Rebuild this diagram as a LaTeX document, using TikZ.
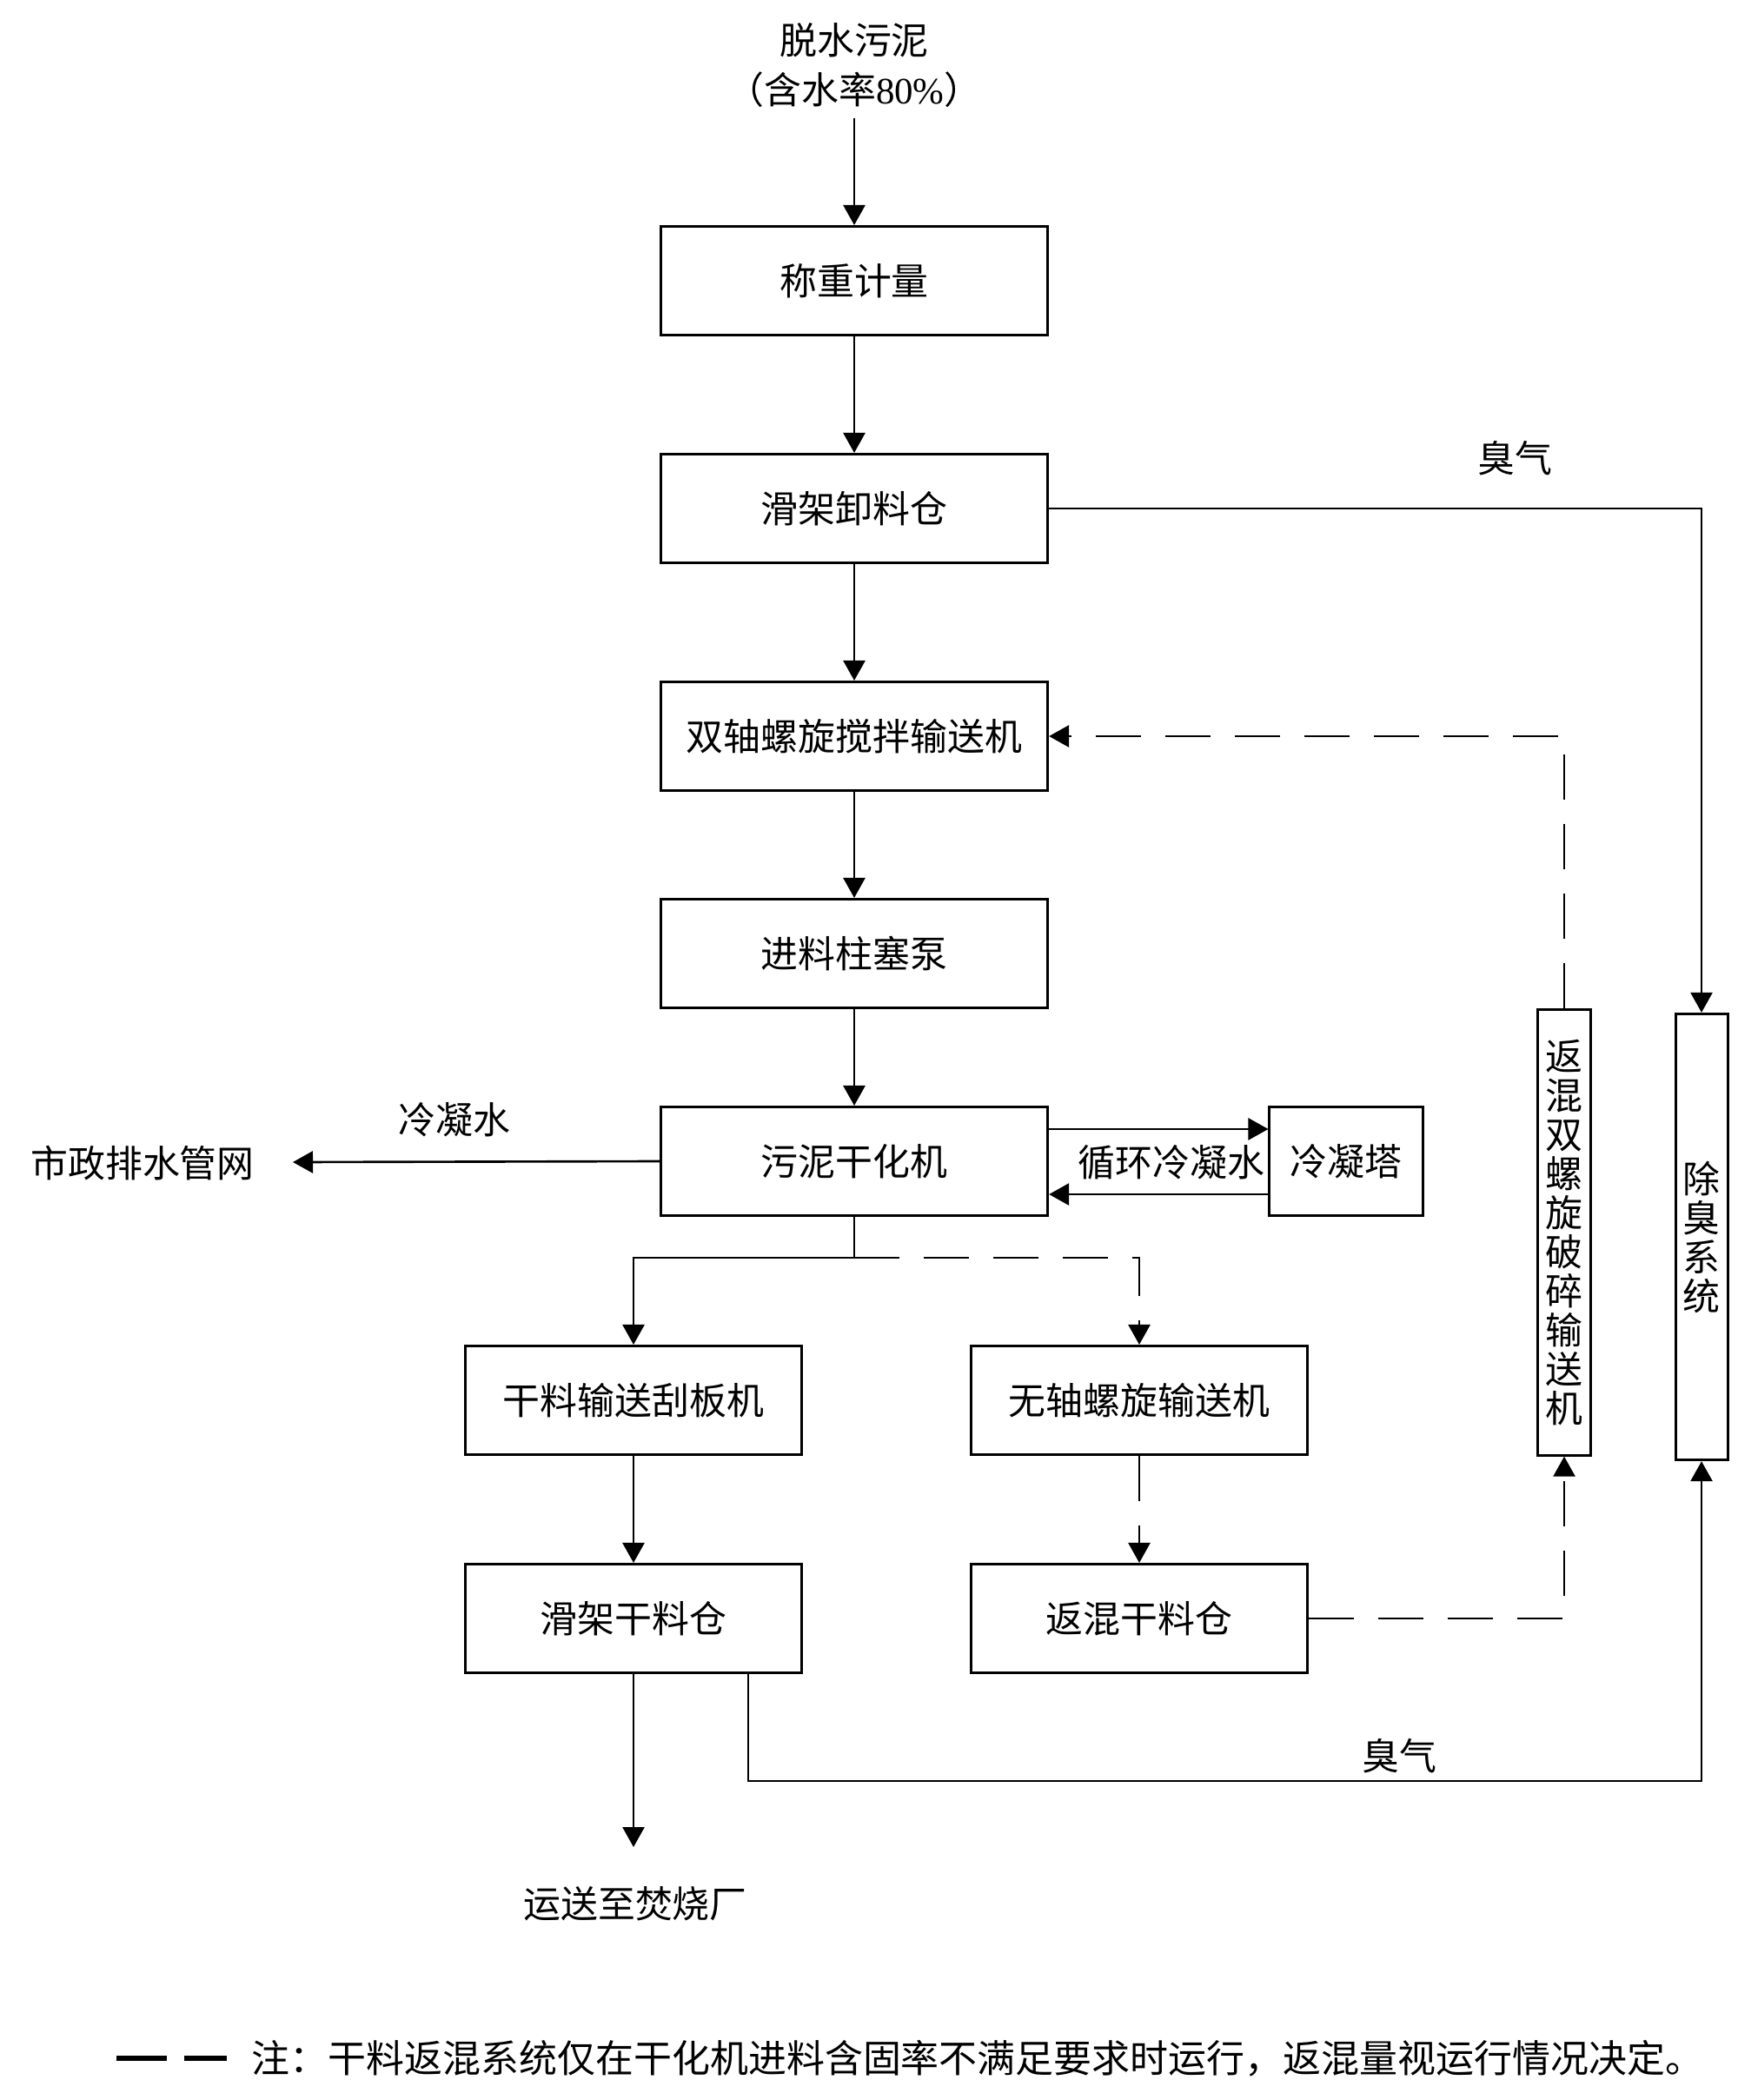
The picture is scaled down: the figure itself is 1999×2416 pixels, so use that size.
\documentclass[tikz,border=0pt]{standalone}
\usepackage{fontspec}
\setmainfont{Noto Sans CJK SC}
\newfontfamily\latin{Liberation Serif}
\usetikzlibrary{arrows.meta,positioning}

\begin{document}
\begin{tikzpicture}[x=0.01cm, y=-0.01cm,
    box/.style={draw, line width=0.85pt, minimum width=4.45cm, minimum height=1.25cm, inner sep=0pt, font=\fontsize{12.2pt}{14pt}\selectfont},
    smallbox/.style={box, minimum width=3.87cm},
    tallbox/.style={draw, line width=0.85pt, minimum width=0.61cm, minimum height=5.12cm, inner sep=0pt, align=center, font=\fontsize{12.2pt}{12.8pt}\selectfont},
    lbl/.style={inner sep=0pt, font=\fontsize{12.2pt}{14pt}\selectfont},
    link/.style={line width=0.75pt},
    flow/.style={link, -{Triangle[length=0.23cm,width=0.25cm]}},
    dashflow/.style={flow, dash pattern=on 0.52cm off 0.28cm},
]
    \useasboundingbox (0,0) rectangle (1999,2416);

    % Main line
    \node[lbl, align=center, font=\fontsize{12.2pt}{16.2pt}\selectfont] (src) at (983,75) {脱水污泥\\（含水率{\latin 80\%}）};
    \coordinate (srcout) at (983,136);
    \node[box] (weigh) at (983,323) {称重计量};
    \node[box] (hopper) at (983,585) {滑架卸料仓};
    \node[box] (mixer) at (983,847) {双轴螺旋搅拌输送机};
    \node[box] (pump) at (983,1097) {进料柱塞泵};
    \node[box] (dryer) at (983,1336) {污泥干化机};
    \draw[flow] (srcout) -- (weigh);
    \draw[flow] (weigh) -- (hopper);
    \draw[flow] (hopper) -- (mixer);
    \draw[flow] (mixer) -- (pump);
    \draw[flow] (pump) -- (dryer);

    % Condensate
    \node[box, minimum width=1.76cm] (tower) at (1549,1336) {冷凝塔};
    \node[lbl] (cyclbl) at (1348,1337) {循环冷凝水};
    \draw[flow] ([yshift=0.37cm]dryer.east) -- ([yshift=0.37cm]tower.west);
    \draw[flow] ([yshift=-0.38cm]tower.west) -- ([yshift=-0.38cm]dryer.east);
    \node[lbl] (sewer) at (164,1338) {市政排水管网};
    \coordinate (sewerin) at (337,1337);
    \node[lbl] (condlbl) at (523,1288) {冷凝水};
    \draw[flow] (dryer.west) -- (sewerin);

    % Dry product and back mixing
    \node[smallbox] (scraper) at (729,1611) {干料输送刮板机};
    \node[smallbox] (screw) at (1311,1611) {无轴螺旋输送机};
    \node[smallbox] (drybin) at (729,1862) {滑架干料仓};
    \node[smallbox] (backbin) at (1311,1862) {返混干料仓};
    \coordinate (split) at (983,1447);
    \draw[link] (dryer.south) -- (split);
    \draw[flow] (split) -| (scraper.north);
    \draw[dashflow] (split) -| (screw.north);
    \draw[flow] (scraper) -- (drybin);
    \draw[dashflow] (screw) -- (backbin);

    \node[tallbox] (crusher) at (1800,1418) {返\\混\\双\\螺\\旋\\破\\碎\\输\\送\\机};
    \draw[dashflow] (backbin.east) -| (crusher.south);
    \draw[dashflow] (crusher.north) |- (mixer.east);

    \node[lbl] (plant) at (731,2190) {运送至焚烧厂};
    \coordinate (plantin) at (729,2125);
    \draw[flow] (drybin) -- (plantin);

    % Odour
    \node[tallbox, minimum width=0.6cm, minimum height=5.13cm] (deodor) at (1958,1423) {除\\臭\\系\\统};
    \node[lbl] (gas1) at (1743,527) {臭气};
    \node[lbl] (gas2) at (1610,2020) {臭气};
    \draw[flow] (hopper.east) -| (deodor.north);
    \coordinate (gasturn) at (861,2049);
    \draw[flow] (gasturn |- drybin.south) -- (gasturn) -| (deodor.south);

    % Note
    \draw[line width=1.5pt, dash pattern=on 0.58cm off 0.2cm] (134,2368) -- (261,2368);
    \node[lbl, anchor=west, font=\fontsize{12.5pt}{14pt}\selectfont] (note) at (289,2368) {注：干料返混系统仅在干化机进料含固率不满足要求时运行，返混量视运行情况决定。};
\end{tikzpicture}
\end{document}
